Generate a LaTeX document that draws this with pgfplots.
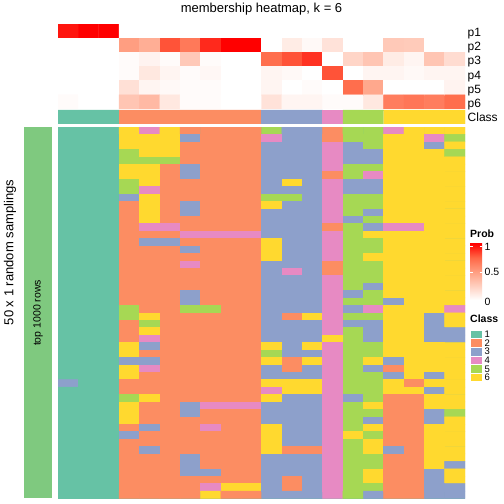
\documentclass[border=0pt]{standalone}
\usepackage{pgfplots}
\pgfplotsset{compat=1.18}
\usepackage{fontspec}
\setmainfont{Liberation Sans}
\definecolor{cA}{RGB}{102,194,165}
\definecolor{cB}{RGB}{252,141,98}
\definecolor{cC}{RGB}{141,160,203}
\definecolor{cD}{RGB}{231,138,195}
\definecolor{cE}{RGB}{166,216,84}
\definecolor{cF}{RGB}{255,217,47}
\definecolor{slice}{RGB}{127,201,127}
\pgfdeclareverticalshading{probbar}{100bp}{rgb(0bp)=(1,1,1); rgb(25bp)=(1,1,1); rgb(37.5bp)=(1,0.812,0.749); rgb(50bp)=(1,0.62,0.506); rgb(62.5bp)=(1,0.404,0.275); rgb(75bp)=(1,0,0); rgb(100bp)=(1,0,0)}
\pgfplotsset{hm/.style={hide axis, scale only axis, anchor=south west, xmin=0.5, xmax=20.5, enlargelimits=false},
  cls/.style={ybar, bar width=1, bar shift=0pt, draw=#1, line width=0.2pt, fill=#1},
  mp/.style={matrix plot*, mesh/cols=20, point meta=explicit}}
\begin{document}
\begin{tikzpicture}[x=1pt,y=1pt]
\path[use as bounding box, fill=white] (0,0) rectangle (504,504);
% probability annotation
\begin{axis}[hm, at={(58pt,395pt)}, width=407pt, height=85pt, ymin=0.5, ymax=6.5, y dir=reverse,
  colormap={prob}{rgb255=(255,255,255) rgb255=(255,207,191) rgb255=(255,158,129) rgb255=(255,103,70) rgb255=(255,0,0)},
  point meta min=0, point meta max=1]
\addplot[mp] coordinates {
(1,1)[0.95] (2,1)[1] (3,1)[1] (4,1)[0] (5,1)[0] (6,1)[0] (7,1)[0] (8,1)[0] (9,1)[0] (10,1)[0] (11,1)[0] (12,1)[0] (13,1)[0] (14,1)[0] (15,1)[0] (16,1)[0] (17,1)[0] (18,1)[0] (19,1)[0] (20,1)[0]
(1,2)[0] (2,2)[0] (3,2)[0] (4,2)[0.5] (5,2)[0.42] (6,2)[0.8] (7,2)[0.67] (8,2)[0.9] (9,2)[1] (10,2)[1] (11,2)[0] (12,2)[0.1] (13,2)[0.03] (14,2)[0.15] (15,2)[0] (16,2)[0] (17,2)[0.28] (18,2)[0.27] (19,2)[0] (20,2)[0]
(1,3)[0] (2,3)[0] (3,3)[0] (4,3)[0.02] (5,3)[0.06] (6,3)[0.02] (7,3)[0.28] (8,3)[0.02] (9,3)[0] (10,3)[0] (11,3)[0.72] (12,3)[0.8] (13,3)[0.88] (14,3)[0] (15,3)[0.22] (16,3)[0.3] (17,3)[0.1] (18,3)[0.05] (19,3)[0.3] (20,3)[0.18]
(1,4)[0] (2,4)[0] (3,4)[0] (4,4)[0.02] (5,4)[0.12] (6,4)[0.05] (7,4)[0.02] (8,4)[0.04] (9,4)[0] (10,4)[0] (11,4)[0.05] (12,4)[0.03] (13,4)[0] (14,4)[0.8] (15,4)[0] (16,4)[0.05] (17,4)[0.05] (18,4)[0.03] (19,4)[0.05] (20,4)[0.05]
(1,5)[0] (2,5)[0] (3,5)[0] (4,5)[0.16] (5,5)[0.05] (6,5)[0.03] (7,5)[0.02] (8,5)[0.02] (9,5)[0] (10,5)[0] (11,5)[0.05] (12,5)[0] (13,5)[0.02] (14,5)[0] (15,5)[0.72] (16,5)[0.45] (17,5)[0] (18,5)[0] (19,5)[0] (20,5)[0.06]
(1,6)[0.02] (2,6)[0] (3,6)[0] (4,6)[0.3] (5,6)[0.36] (6,6)[0.12] (7,6)[0.02] (8,6)[0.02] (9,6)[0] (10,6)[0] (11,6)[0.15] (12,6)[0.05] (13,6)[0.05] (14,6)[0.02] (15,6)[0.02] (16,6)[0.12] (17,6)[0.65] (18,6)[0.68] (19,6)[0.65] (20,6)[0.72]
};
\end{axis}
% class annotation
\begin{axis}[hm, at={(58pt,380pt)}, width=407pt, height=14pt, ymin=0, ymax=1]
\addplot[cls=cA] coordinates {(1,1) (2,1) (3,1)};
\addplot[cls=cB] coordinates {(4,1) (5,1) (6,1) (7,1) (8,1) (9,1) (10,1)};
\addplot[cls=cC] coordinates {(11,1) (12,1) (13,1)};
\addplot[cls=cD] coordinates {(14,1)};
\addplot[cls=cE] coordinates {(15,1) (16,1)};
\addplot[cls=cF] coordinates {(17,1) (18,1) (19,1) (20,1)};
\end{axis}
% main membership heatmap
\begin{axis}[hm, at={(58pt,5.5pt)}, width=407pt, height=371.5pt, ymin=0.5, ymax=50.5, y dir=reverse,
  axis background/.style={fill=cA},
  colormap={set2}{rgb255=(102,194,165) rgb255=(252,141,98) rgb255=(141,160,203) rgb255=(231,138,195) rgb255=(166,216,84) rgb255=(255,217,47)},
  colormap access=direct]
\addplot[mp] coordinates {
(1,1)[0] (2,1)[0] (3,1)[0] (4,1)[5] (5,1)[3] (6,1)[5] (7,1)[1] (8,1)[1] (9,1)[1] (10,1)[1] (11,1)[4] (12,1)[2] (13,1)[2] (14,1)[1] (15,1)[4] (16,1)[4] (17,1)[3] (18,1)[5] (19,1)[5] (20,1)[5]
(1,2)[0] (2,2)[0] (3,2)[0] (4,2)[5] (5,2)[5] (6,2)[5] (7,2)[2] (8,2)[1] (9,2)[1] (10,2)[1] (11,2)[3] (12,2)[2] (13,2)[2] (14,2)[1] (15,2)[4] (16,2)[4] (17,2)[5] (18,2)[5] (19,2)[3] (20,2)[4]
(1,3)[0] (2,3)[0] (3,3)[0] (4,3)[5] (5,3)[5] (6,3)[5] (7,3)[1] (8,3)[1] (9,3)[1] (10,3)[1] (11,3)[2] (12,3)[2] (13,3)[2] (14,3)[3] (15,3)[2] (16,3)[4] (17,3)[5] (18,3)[5] (19,3)[2] (20,3)[5]
(1,4)[0] (2,4)[0] (3,4)[0] (4,4)[4] (5,4)[5] (6,4)[5] (7,4)[1] (8,4)[1] (9,4)[1] (10,4)[1] (11,4)[2] (12,4)[2] (13,4)[2] (14,4)[3] (15,4)[2] (16,4)[2] (17,4)[5] (18,4)[5] (19,4)[5] (20,4)[4]
(1,5)[0] (2,5)[0] (3,5)[0] (4,5)[4] (5,5)[4] (6,5)[4] (7,5)[1] (8,5)[1] (9,5)[1] (10,5)[1] (11,5)[2] (12,5)[2] (13,5)[2] (14,5)[3] (15,5)[2] (16,5)[2] (17,5)[5] (18,5)[5] (19,5)[5] (20,5)[5]
(1,6)[0] (2,6)[0] (3,6)[0] (4,6)[5] (5,6)[5] (6,6)[1] (7,6)[2] (8,6)[1] (9,6)[1] (10,6)[1] (11,6)[2] (12,6)[2] (13,6)[2] (14,6)[3] (15,6)[4] (16,6)[4] (17,6)[5] (18,6)[5] (19,6)[5] (20,6)[5]
(1,7)[0] (2,7)[0] (3,7)[0] (4,7)[5] (5,7)[5] (6,7)[1] (7,7)[2] (8,7)[1] (9,7)[1] (10,7)[1] (11,7)[2] (12,7)[2] (13,7)[2] (14,7)[1] (15,7)[4] (16,7)[3] (17,7)[5] (18,7)[5] (19,7)[5] (20,7)[5]
(1,8)[0] (2,8)[0] (3,8)[0] (4,8)[4] (5,8)[5] (6,8)[1] (7,8)[1] (8,8)[1] (9,8)[1] (10,8)[1] (11,8)[2] (12,8)[5] (13,8)[2] (14,8)[3] (15,8)[2] (16,8)[2] (17,8)[5] (18,8)[5] (19,8)[5] (20,8)[5]
(1,9)[0] (2,9)[0] (3,9)[0] (4,9)[4] (5,9)[3] (6,9)[1] (7,9)[1] (8,9)[1] (9,9)[1] (10,9)[1] (11,9)[2] (12,9)[2] (13,9)[2] (14,9)[3] (15,9)[2] (16,9)[2] (17,9)[5] (18,9)[5] (19,9)[5] (20,9)[5]
(1,10)[0] (2,10)[0] (3,10)[0] (4,10)[2] (5,10)[5] (6,10)[1] (7,10)[1] (8,10)[1] (9,10)[1] (10,10)[1] (11,10)[4] (12,10)[4] (13,10)[2] (14,10)[3] (15,10)[4] (16,10)[4] (17,10)[5] (18,10)[5] (19,10)[5] (20,10)[5]
(1,11)[0] (2,11)[0] (3,11)[0] (4,11)[1] (5,11)[5] (6,11)[1] (7,11)[2] (8,11)[1] (9,11)[1] (10,11)[1] (11,11)[5] (12,11)[2] (13,11)[2] (14,11)[3] (15,11)[4] (16,11)[4] (17,11)[5] (18,11)[5] (19,11)[5] (20,11)[5]
(1,12)[0] (2,12)[0] (3,12)[0] (4,12)[1] (5,12)[5] (6,12)[1] (7,12)[2] (8,12)[1] (9,12)[1] (10,12)[1] (11,12)[2] (12,12)[2] (13,12)[2] (14,12)[3] (15,12)[4] (16,12)[2] (17,12)[5] (18,12)[5] (19,12)[5] (20,12)[5]
(1,13)[0] (2,13)[0] (3,13)[0] (4,13)[1] (5,13)[5] (6,13)[1] (7,13)[1] (8,13)[1] (9,13)[1] (10,13)[1] (11,13)[2] (12,13)[2] (13,13)[2] (14,13)[3] (15,13)[2] (16,13)[4] (17,13)[5] (18,13)[5] (19,13)[5] (20,13)[5]
(1,14)[0] (2,14)[0] (3,14)[0] (4,14)[1] (5,14)[3] (6,14)[3] (7,14)[1] (8,14)[1] (9,14)[1] (10,14)[1] (11,14)[2] (12,14)[2] (13,14)[2] (14,14)[1] (15,14)[4] (16,14)[2] (17,14)[3] (18,14)[3] (19,14)[5] (20,14)[5]
(1,15)[0] (2,15)[0] (3,15)[0] (4,15)[1] (5,15)[1] (6,15)[1] (7,15)[3] (8,15)[3] (9,15)[3] (10,15)[3] (11,15)[2] (12,15)[2] (13,15)[2] (14,15)[3] (15,15)[4] (16,15)[5] (17,15)[5] (18,15)[5] (19,15)[5] (20,15)[5]
(1,16)[0] (2,16)[0] (3,16)[0] (4,16)[1] (5,16)[2] (6,16)[2] (7,16)[1] (8,16)[1] (9,16)[1] (10,16)[1] (11,16)[5] (12,16)[2] (13,16)[2] (14,16)[3] (15,16)[4] (16,16)[4] (17,16)[5] (18,16)[5] (19,16)[5] (20,16)[5]
(1,17)[0] (2,17)[0] (3,17)[0] (4,17)[1] (5,17)[1] (6,17)[1] (7,17)[2] (8,17)[1] (9,17)[1] (10,17)[1] (11,17)[5] (12,17)[2] (13,17)[2] (14,17)[3] (15,17)[4] (16,17)[4] (17,17)[5] (18,17)[5] (19,17)[5] (20,17)[5]
(1,18)[0] (2,18)[0] (3,18)[0] (4,18)[1] (5,18)[1] (6,18)[1] (7,18)[1] (8,18)[1] (9,18)[1] (10,18)[1] (11,18)[5] (12,18)[2] (13,18)[2] (14,18)[3] (15,18)[4] (16,18)[5] (17,18)[5] (18,18)[5] (19,18)[5] (20,18)[5]
(1,19)[0] (2,19)[0] (3,19)[0] (4,19)[1] (5,19)[1] (6,19)[1] (7,19)[3] (8,19)[1] (9,19)[1] (10,19)[1] (11,19)[2] (12,19)[2] (13,19)[2] (14,19)[1] (15,19)[4] (16,19)[4] (17,19)[5] (18,19)[5] (19,19)[5] (20,19)[5]
(1,20)[0] (2,20)[0] (3,20)[0] (4,20)[1] (5,20)[1] (6,20)[1] (7,20)[1] (8,20)[1] (9,20)[1] (10,20)[1] (11,20)[2] (12,20)[3] (13,20)[2] (14,20)[1] (15,20)[4] (16,20)[4] (17,20)[5] (18,20)[5] (19,20)[5] (20,20)[5]
(1,21)[0] (2,21)[0] (3,21)[0] (4,21)[1] (5,21)[1] (6,21)[1] (7,21)[1] (8,21)[1] (9,21)[1] (10,21)[1] (11,21)[2] (12,21)[2] (13,21)[2] (14,21)[3] (15,21)[4] (16,21)[4] (17,21)[5] (18,21)[5] (19,21)[5] (20,21)[5]
(1,22)[0] (2,22)[0] (3,22)[0] (4,22)[1] (5,22)[1] (6,22)[1] (7,22)[1] (8,22)[1] (9,22)[1] (10,22)[1] (11,22)[2] (12,22)[2] (13,22)[2] (14,22)[3] (15,22)[4] (16,22)[2] (17,22)[5] (18,22)[5] (19,22)[5] (20,22)[5]
(1,23)[0] (2,23)[0] (3,23)[0] (4,23)[1] (5,23)[1] (6,23)[1] (7,23)[2] (8,23)[1] (9,23)[1] (10,23)[1] (11,23)[2] (12,23)[2] (13,23)[2] (14,23)[3] (15,23)[2] (16,23)[4] (17,23)[5] (18,23)[5] (19,23)[5] (20,23)[5]
(1,24)[0] (2,24)[0] (3,24)[0] (4,24)[1] (5,24)[1] (6,24)[1] (7,24)[2] (8,24)[1] (9,24)[1] (10,24)[1] (11,24)[2] (12,24)[2] (13,24)[2] (14,24)[3] (15,24)[4] (16,24)[4] (17,24)[2] (18,24)[5] (19,24)[5] (20,24)[5]
(1,25)[0] (2,25)[0] (3,25)[0] (4,25)[4] (5,25)[1] (6,25)[1] (7,25)[4] (8,25)[4] (9,25)[1] (10,25)[1] (11,25)[2] (12,25)[2] (13,25)[2] (14,25)[3] (15,25)[2] (16,25)[3] (17,25)[5] (18,25)[5] (19,25)[5] (20,25)[3]
(1,26)[0] (2,26)[0] (3,26)[0] (4,26)[4] (5,26)[5] (6,26)[1] (7,26)[1] (8,26)[1] (9,26)[1] (10,26)[1] (11,26)[2] (12,26)[1] (13,26)[5] (14,26)[3] (15,26)[4] (16,26)[4] (17,26)[5] (18,26)[5] (19,26)[2] (20,26)[5]
(1,27)[0] (2,27)[0] (3,27)[0] (4,27)[1] (5,27)[4] (6,27)[1] (7,27)[1] (8,27)[1] (9,27)[1] (10,27)[1] (11,27)[2] (12,27)[2] (13,27)[2] (14,27)[3] (15,27)[2] (16,27)[2] (17,27)[5] (18,27)[5] (19,27)[2] (20,27)[5]
(1,28)[0] (2,28)[0] (3,28)[0] (4,28)[1] (5,28)[5] (6,28)[1] (7,28)[1] (8,28)[1] (9,28)[1] (10,28)[1] (11,28)[2] (12,28)[2] (13,28)[2] (14,28)[3] (15,28)[4] (16,28)[2] (17,28)[5] (18,28)[5] (19,28)[2] (20,28)[2]
(1,29)[0] (2,29)[0] (3,29)[0] (4,29)[1] (5,29)[3] (6,29)[1] (7,29)[1] (8,29)[1] (9,29)[1] (10,29)[1] (11,29)[2] (12,29)[2] (13,29)[2] (14,29)[5] (15,29)[4] (16,29)[2] (17,29)[5] (18,29)[5] (19,29)[2] (20,29)[2]
(1,30)[0] (2,30)[0] (3,30)[0] (4,30)[5] (5,30)[2] (6,30)[1] (7,30)[1] (8,30)[1] (9,30)[1] (10,30)[1] (11,30)[5] (12,30)[2] (13,30)[5] (14,30)[3] (15,30)[4] (16,30)[4] (17,30)[5] (18,30)[5] (19,30)[5] (20,30)[5]
(1,31)[0] (2,31)[0] (3,31)[0] (4,31)[5] (5,31)[1] (6,31)[1] (7,31)[1] (8,31)[1] (9,31)[1] (10,31)[1] (11,31)[4] (12,31)[2] (13,31)[2] (14,31)[3] (15,31)[4] (16,31)[4] (17,31)[5] (18,31)[5] (19,31)[5] (20,31)[5]
(1,32)[0] (2,32)[0] (3,32)[0] (4,32)[2] (5,32)[2] (6,32)[1] (7,32)[1] (8,32)[1] (9,32)[1] (10,32)[1] (11,32)[5] (12,32)[1] (13,32)[5] (14,32)[3] (15,32)[4] (16,32)[5] (17,32)[2] (18,32)[5] (19,32)[5] (20,32)[5]
(1,33)[0] (2,33)[0] (3,33)[0] (4,33)[5] (5,33)[3] (6,33)[1] (7,33)[1] (8,33)[1] (9,33)[1] (10,33)[1] (11,33)[2] (12,33)[1] (13,33)[2] (14,33)[3] (15,33)[4] (16,33)[2] (17,33)[1] (18,33)[5] (19,33)[5] (20,33)[5]
(1,34)[0] (2,34)[0] (3,34)[0] (4,34)[5] (5,34)[1] (6,34)[1] (7,34)[1] (8,34)[1] (9,34)[1] (10,34)[1] (11,34)[2] (12,34)[2] (13,34)[2] (14,34)[3] (15,34)[4] (16,34)[4] (17,34)[2] (18,34)[5] (19,34)[2] (20,34)[5]
(1,35)[2] (2,35)[0] (3,35)[0] (4,35)[1] (5,35)[1] (6,35)[1] (7,35)[1] (8,35)[1] (9,35)[1] (10,35)[1] (11,35)[5] (12,35)[5] (13,35)[5] (14,35)[3] (15,35)[4] (16,35)[4] (17,35)[5] (18,35)[1] (19,35)[5] (20,35)[5]
(1,36)[0] (2,36)[0] (3,36)[0] (4,36)[1] (5,36)[1] (6,36)[1] (7,36)[1] (8,36)[1] (9,36)[1] (10,36)[1] (11,36)[3] (12,36)[5] (13,36)[5] (14,36)[3] (15,36)[4] (16,36)[4] (17,36)[5] (18,36)[5] (19,36)[2] (20,36)[5]
(1,37)[0] (2,37)[0] (3,37)[0] (4,37)[4] (5,37)[5] (6,37)[1] (7,37)[1] (8,37)[1] (9,37)[1] (10,37)[1] (11,37)[5] (12,37)[2] (13,37)[2] (14,37)[3] (15,37)[2] (16,37)[4] (17,37)[1] (18,37)[1] (19,37)[5] (20,37)[5]
(1,38)[0] (2,38)[0] (3,38)[0] (4,38)[5] (5,38)[1] (6,38)[1] (7,38)[2] (8,38)[3] (9,38)[3] (10,38)[3] (11,38)[2] (12,38)[2] (13,38)[2] (14,38)[3] (15,38)[4] (16,38)[5] (17,38)[1] (18,38)[1] (19,38)[5] (20,38)[5]
(1,39)[0] (2,39)[0] (3,39)[0] (4,39)[5] (5,39)[1] (6,39)[1] (7,39)[2] (8,39)[1] (9,39)[1] (10,39)[1] (11,39)[2] (12,39)[2] (13,39)[2] (14,39)[3] (15,39)[4] (16,39)[4] (17,39)[1] (18,39)[1] (19,39)[2] (20,39)[4]
(1,40)[0] (2,40)[0] (3,40)[0] (4,40)[5] (5,40)[1] (6,40)[1] (7,40)[1] (8,40)[1] (9,40)[1] (10,40)[1] (11,40)[2] (12,40)[2] (13,40)[2] (14,40)[3] (15,40)[4] (16,40)[2] (17,40)[1] (18,40)[1] (19,40)[2] (20,40)[5]
(1,41)[0] (2,41)[0] (3,41)[0] (4,41)[1] (5,41)[2] (6,41)[1] (7,41)[1] (8,41)[3] (9,41)[1] (10,41)[1] (11,41)[5] (12,41)[2] (13,41)[2] (14,41)[3] (15,41)[4] (16,41)[5] (17,41)[1] (18,41)[1] (19,41)[5] (20,41)[5]
(1,42)[0] (2,42)[0] (3,42)[0] (4,42)[2] (5,42)[1] (6,42)[1] (7,42)[1] (8,42)[1] (9,42)[1] (10,42)[1] (11,42)[5] (12,42)[2] (13,42)[2] (14,42)[3] (15,42)[5] (16,42)[4] (17,42)[1] (18,42)[1] (19,42)[5] (20,42)[5]
(1,43)[0] (2,43)[0] (3,43)[0] (4,43)[1] (5,43)[1] (6,43)[1] (7,43)[1] (8,43)[1] (9,43)[1] (10,43)[1] (11,43)[5] (12,43)[2] (13,43)[2] (14,43)[3] (15,43)[4] (16,43)[5] (17,43)[1] (18,43)[1] (19,43)[5] (20,43)[5]
(1,44)[0] (2,44)[0] (3,44)[0] (4,44)[1] (5,44)[2] (6,44)[1] (7,44)[1] (8,44)[1] (9,44)[1] (10,44)[1] (11,44)[5] (12,44)[1] (13,44)[1] (14,44)[3] (15,44)[4] (16,44)[5] (17,44)[2] (18,44)[1] (19,44)[5] (20,44)[5]
(1,45)[0] (2,45)[0] (3,45)[0] (4,45)[1] (5,45)[1] (6,45)[1] (7,45)[2] (8,45)[1] (9,45)[1] (10,45)[1] (11,45)[2] (12,45)[2] (13,45)[2] (14,45)[3] (15,45)[4] (16,45)[4] (17,45)[1] (18,45)[1] (19,45)[5] (20,45)[5]
(1,46)[0] (2,46)[0] (3,46)[0] (4,46)[1] (5,46)[1] (6,46)[1] (7,46)[2] (8,46)[1] (9,46)[1] (10,46)[1] (11,46)[2] (12,46)[2] (13,46)[2] (14,46)[3] (15,46)[4] (16,46)[4] (17,46)[1] (18,46)[1] (19,46)[5] (20,46)[2]
(1,47)[0] (2,47)[0] (3,47)[0] (4,47)[1] (5,47)[1] (6,47)[1] (7,47)[2] (8,47)[2] (9,47)[1] (10,47)[1] (11,47)[2] (12,47)[2] (13,47)[2] (14,47)[3] (15,47)[4] (16,47)[5] (17,47)[1] (18,47)[1] (19,47)[2] (20,47)[5]
(1,48)[0] (2,48)[0] (3,48)[0] (4,48)[1] (5,48)[1] (6,48)[1] (7,48)[1] (8,48)[1] (9,48)[1] (10,48)[1] (11,48)[2] (12,48)[1] (13,48)[2] (14,48)[3] (15,48)[4] (16,48)[5] (17,48)[1] (18,48)[1] (19,48)[2] (20,48)[5]
(1,49)[0] (2,49)[0] (3,49)[0] (4,49)[1] (5,49)[1] (6,49)[1] (7,49)[1] (8,49)[3] (9,49)[5] (10,49)[5] (11,49)[2] (12,49)[1] (13,49)[2] (14,49)[3] (15,49)[4] (16,49)[4] (17,49)[1] (18,49)[1] (19,49)[2] (20,49)[2]
(1,50)[0] (2,50)[0] (3,50)[0] (4,50)[1] (5,50)[1] (6,50)[1] (7,50)[1] (8,50)[5] (9,50)[1] (10,50)[1] (11,50)[2] (12,50)[2] (13,50)[2] (14,50)[3] (15,50)[4] (16,50)[2] (17,50)[1] (18,50)[1] (19,50)[2] (20,50)[2]
};
\end{axis}
% slice bar and labels
\fill[slice] (24,5.5) rectangle (52.3,377);
\node[rotate=90, font=\fontsize{10.5}{12}\selectfont] at (38,191) {top 1000 rows};
\node[rotate=90, font=\fontsize{13}{15}\selectfont] at (10,251.5) {50 x 1 random samplings};
% title
\node[anchor=base, font=\fontsize{13}{15}\selectfont] at (261.5,491.5) {membership heatmap, k = 6};
% annotation names
\begin{scope}[every node/.style={anchor=west, font=\fontsize{12}{14}\selectfont, text height=8.6pt, text depth=0pt, inner sep=0pt}]
\node at (467.5,471.5) {p1};
\node at (467.5,457.5) {p2};
\node at (467.5,443.5) {p3};
\node at (467.5,429.2) {p4};
\node at (467.5,415) {p5};
\node at (467.5,401) {p6};
\node at (467.5,386.5) {Class};
\end{scope}
% Prob legend
\node[anchor=base west, inner sep=0pt, font=\fontsize{10.5}{12}\selectfont\bfseries] at (470,266) {Prob};
\shade[shading=probbar] (470,204) rectangle (482,260.5);
\draw[white, line width=0.6pt] (470,257.3) -- (472.5,257.3) (479.5,257.3) -- (482,257.3) (470,232) -- (472.5,232) (479.5,232) -- (482,232);
\begin{scope}[every node/.style={anchor=west, font=\fontsize{10.5}{12}\selectfont, text height=7.5pt, text depth=0pt, inner sep=0pt}]
\node at (484.5,257.3) {1};
\node at (484.5,232) {0.5};
\node at (484.5,202.5) {0};
\end{scope}
% Class legend
\node[anchor=base west, inner sep=0pt, font=\fontsize{10.5}{12}\selectfont\bfseries] at (470,181.5) {Class};
\begin{scope}[draw=white, line width=0.5pt]
\filldraw[fill=cA] (470,174) rectangle (482,165.4);
\filldraw[fill=cB] (470,165.4) rectangle (482,156.8);
\filldraw[fill=cC] (470,156.8) rectangle (482,148.2);
\filldraw[fill=cD] (470,148.2) rectangle (482,139.6);
\filldraw[fill=cE] (470,139.6) rectangle (482,131);
\filldraw[fill=cF] (470,131) rectangle (482,122.4);
\end{scope}
\begin{scope}[every node/.style={anchor=west, font=\fontsize{9.5}{11}\selectfont, text height=6.8pt, text depth=0pt, inner sep=0pt}]
\node at (484.5,169.7) {1};
\node at (484.5,161.1) {2};
\node at (484.5,152.5) {3};
\node at (484.5,143.9) {4};
\node at (484.5,135.3) {5};
\node at (484.5,126.7) {6};
\end{scope}
\end{tikzpicture}
\end{document}
